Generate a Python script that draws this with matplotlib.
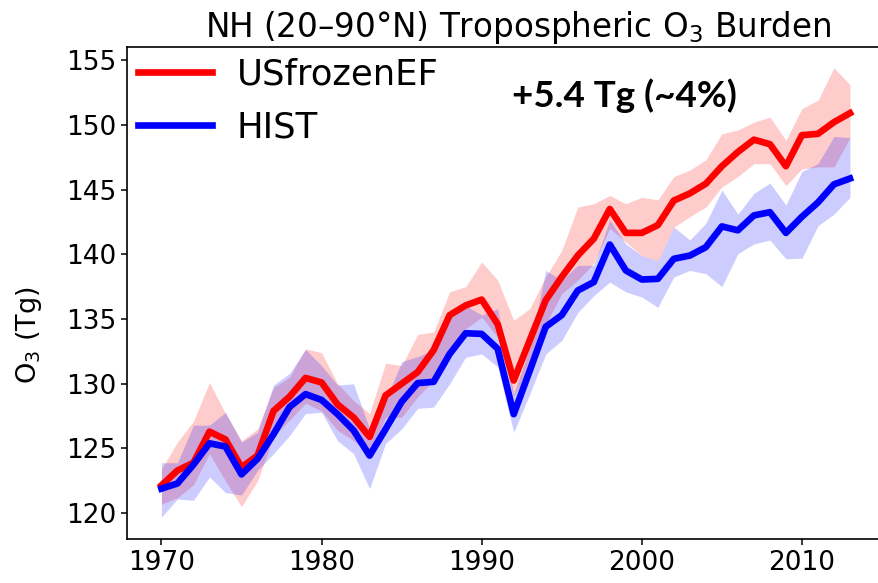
import numpy as np
import matplotlib
matplotlib.use("Agg")
import matplotlib.pyplot as plt

years = list(range(1970, 2014))

frozen_mean = [122.15, 123.3, 123.9, 126.3, 125.7, 123.55, 124.45, 127.9, 129.0, 130.45,
               130.1, 128.4, 127.4, 125.9, 129.1, 130.0, 130.9, 132.6, 135.3, 136.05,
               136.5, 134.6, 130.25, 133.35, 136.45, 138.25, 139.9, 141.2, 143.5, 141.65,
               141.65, 142.25, 144.15, 144.7, 145.45, 146.8, 147.9, 148.85, 148.5, 146.8,
               149.2, 149.3, 150.2, 150.9]
frozen_low = [120.7, 121.2, 122.2, 124.6, 122.5, 120.5, 122.5, 125.9, 127.2, 128.5,
              127.9, 126.4, 125.6, 124.6, 127.4, 127.4, 129.0, 130.25, 132.8, 134.25,
              135.15, 133.6, 129.0, 131.3, 134.6, 136.95, 138.0, 139.3, 142.0, 140.95,
              139.9, 139.5, 142.1, 142.9, 143.65, 145.2, 146.0, 147.0, 147.0, 145.3,
              146.6, 146.75, 146.75, 149.0]
frozen_high = [123.4, 125.5, 127.1, 130.1, 127.7, 125.6, 126.5, 129.7, 130.5, 132.7,
               132.4, 130.0, 128.7, 127.7, 131.6, 131.4, 133.8, 134.0, 137.1, 137.5,
               139.4, 138.0, 134.9, 135.8, 138.25, 140.3, 143.65, 143.9, 144.55, 143.9,
               144.4, 144.2, 146.0, 146.5, 147.3, 149.3, 149.6, 150.2, 150.6, 148.8,
               151.25, 151.9, 154.4, 153.1]

hist_mean = [121.9, 122.3, 123.75, 125.4, 125.15, 123.0, 124.2, 126.1, 128.2, 129.2,
             128.75, 127.65, 126.4, 124.45, 126.5, 128.6, 130.05, 130.15, 132.3, 133.9,
             133.85, 132.7, 127.65, 131.0, 134.4, 135.3, 137.2, 137.85, 140.75, 138.75,
             138.05, 138.1, 139.65, 139.9, 140.55, 142.15, 141.85, 143.0, 143.25, 141.65,
             142.9, 144.0, 145.4, 145.85]
hist_low = [119.7, 121.1, 121.0, 122.8, 121.6, 121.4, 123.3, 124.6, 126.0, 127.7,
            127.8, 125.6, 124.6, 121.9, 125.4, 126.5, 128.1, 128.2, 130.0, 132.05,
            132.3, 131.3, 126.25, 129.2, 132.3, 133.35, 135.5, 136.8, 137.85, 137.1,
            136.7, 135.9, 138.25, 138.75, 138.5, 137.5, 140.05, 140.8, 141.1, 139.65,
            139.7, 142.2, 143.1, 144.4]
hist_high = [123.9, 123.9, 126.8, 126.8, 127.8, 125.5, 126.25, 129.9, 130.8, 132.65,
             131.4, 129.9, 130.0, 126.5, 128.7, 131.7, 132.1, 132.6, 135.15, 136.05,
             135.3, 135.8, 129.2, 132.8, 138.75, 138.0, 139.15, 139.15, 142.65, 140.8,
             139.9, 139.5, 142.1, 141.1, 142.4, 144.95, 143.1, 144.7, 145.5, 143.8,
             146.4, 147.0, 149.1, 149.0]

xticks = [1970, 1980, 1990, 2000, 2010]
yticks = [120, 125, 130, 135, 140, 145, 150, 155]

W, H = 879, 583
fig = plt.figure(figsize=(W / 100, H / 100), dpi=100)
left, right, bottom, top = 127, 884.4, 539, 46.7
ax = fig.add_axes([left / W, (H - bottom) / H, (right - left) / W, (bottom - top) / H])

ax.fill_between(years, frozen_low, frozen_high, color="red", alpha=0.2, lw=0)
ax.fill_between(years, hist_low, hist_high, color="blue", alpha=0.2, lw=0)
ax.plot(years, frozen_mean, color="red", lw=4.8, label="USfrozenEF")
ax.plot(years, hist_mean, color="blue", lw=4.8, label="HIST")

ax.set_xlim(1967.85, 2015.15)
ax.set_ylim(118.01, 156.03)
ax.set_xticks(xticks)
ax.set_yticks(yticks)
ax.tick_params(labelsize=19, length=4.5, width=1.1)
for s in ax.spines.values():
    s.set_linewidth(1.2)

ax.set_title("NH (20–90°N) Tropospheric O$_3$ Burden", fontsize=23.5, pad=7, x=0.517)
ax.set_ylabel("O$_3$ (Tg)", fontsize=19.5)
ax.yaxis.set_label_coords(-0.11, 0.415)

ax.legend(loc="upper left", fontsize=25.5, frameon=False, handlelength=2.1,
          borderaxespad=0.1, borderpad=0.2, handletextpad=0.7, labelspacing=0.55)

ax.text(0.508, 0.8775, "+5.4 Tg (~4%)", transform=ax.transAxes, fontsize=26.5,
        fontweight="bold", family=["Lato", "DejaVu Sans"], va="baseline", ha="left")

fig.savefig("out.png", dpi=100)
